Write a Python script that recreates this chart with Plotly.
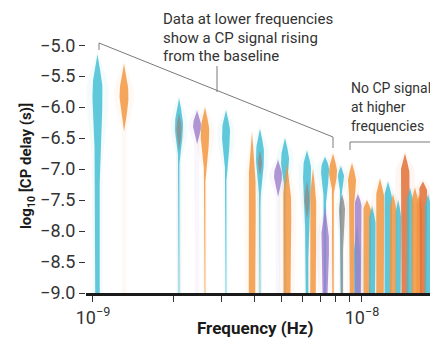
import plotly.graph_objects as go

# ---------------- data ----------------
freq = [1.039e-9, 1.304e-9, 2.088e-9, 2.088e-9, 2.436e-9, 2.608e-9, 3.122e-9,
        3.900e-9, 4.176e-9, 4.176e-9, 4.873e-9, 5.174e-9, 5.263e-9, 6.246e-9,
        6.246e-9, 6.574e-9, 7.288e-9, 7.288e-9, 7.803e-9, 8.355e-9, 8.43e-9,
        9.18e-9, 9.58e-9, 9.66e-9, 1.044e-8, 1.090e-8, 1.167e-8, 1.250e-8,
        1.304e-8, 1.363e-8, 1.445e-8, 1.508e-8, 1.574e-8, 1.629e-8, 1.686e-8,
        1.760e-8, 1.868e-8]
group = ["cyan", "orange", "cyan", "gray", "purple", "orange", "cyan",
         "orange", "cyan", "gray", "purple", "cyan", "orange", "cyan",
         "gray", "orange", "cyan", "purple", "orange", "cyan", "gray",
         "orange", "cyan", "purple", "orange", "cyan", "orange", "cyan",
         "orange", "cyan", "dorange", "cyan", "orange", "orange", "dorange",
         "cyan", "orange"]
top = [-5.15, -5.3, -5.85, -6.1, -6.05, -6.0, -6.05,
       -6.4, -6.35, -6.7, -6.85, -6.5, -6.9, -6.7,
       -7.2, -7.0, -6.8, -7.6, -6.75, -6.95, -7.4,
       -6.9, -7.9, -7.4, -7.5, -7.6, -7.15, -7.2,
       -7.4, -7.5, -6.75, -7.3, -7.3, -7.4, -7.2,
       -7.4, -7.3]
peak = [-5.75, -5.8, -6.3, -6.35, -6.3, -6.4, -6.4,
        -7.4, -6.75, -6.9, -7.1, -6.85, -7.6, -7.0,
        -7.5, -7.6, -7.0, -8.2, -7.05, -7.1, -7.65,
        -7.2, -8.5, -7.6, -7.7, -7.9, -7.5, -7.5,
        -7.7, -7.8, -7.1, -7.6, -7.6, -7.7, -7.35,
        -7.7, -7.6]
body_end = [-6.9, -6.4, -6.85, -6.7, -6.6, -7.1, -7.1,
            -9.0, -7.5, -7.1, -7.45, -7.3, -9.0, -8.2,
            -7.8, -9.0, -7.5, -9.0, -7.35, -7.4, -8.2,
            -7.5, -9.0, -9.0, -9.0, -9.0, -9.0, -9.0,
            -9.0, -9.0, -9.0, -9.0, -9.0, -9.0, -9.0,
            -9.0, -9.0]
density = [1.0, 0.9, 0.8, 0.5, 0.8, 0.85, 0.8,
           0.75, 0.8, 0.4, 0.8, 0.8, 0.85, 0.8,
           0.5, 0.65, 0.8, 0.8, 0.8, 0.6, 0.6,
           0.8, 0.7, 0.7, 0.85, 0.7, 0.85, 0.8,
           0.7, 0.6, 0.9, 0.7, 0.8, 0.6, 0.8,
           0.7, 0.8]
tail = [0.45, 0.0, 0.08, 0.0, 0.0, 0.08, 0.08,
        0.65, 0.08, 0.0, 0.0, 0.1, 0.7, 0.25,
        0.0, 0.55, 0.2, 0.5, 0.15, 0.1, 0.2,
        0.45, 0.55, 0.6, 0.7, 0.6, 0.75, 0.7,
        0.65, 0.5, 0.7, 0.65, 0.7, 0.5, 0.65,
        0.65, 0.7]
y_floor = -9.0

y_ticks = [-9.0, -8.5, -8.0, -7.5, -7.0, -6.5, -6.0, -5.5, -5.0]
x_major = [1e-9, 1e-8]
x_major_text = ["10<sup>−9</sup>", "10<sup>−8</sup>"]
x_minor = [2e-9, 3e-9, 4e-9, 5e-9, 6e-9, 7e-9, 8e-9, 9e-9, 2e-8]

# ---------------- styling ----------------
COLORS = {"cyan": (63, 188, 211), "orange": (243, 148, 60), "purple": (157, 127, 202),
          "gray": (140, 140, 140), "dorange": (224, 106, 48)}
WIDTH_SCALE = 5.0 / 269.0      # half-width in decades per density unit
FONT = "Roboto, sans-serif"
PAGE = 8                       # default body margin of the html page
W_PX, H_PX = 438 - PAGE, 339 - PAGE
# plot area in screen pixels
SX0, SX1, SY0, SY1 = 86, 438, 39, 293
L, R, T, B = SX0 - PAGE, W_PX - (SX1 - PAGE), SY0 - PAGE, H_PX - (SY1 - PAGE)
X_RANGE = [-9.026, -9.026 + (SX1 - SX0) / 269.0]
Y_RANGE = [-9.0, -4.9]


def half_width(y, t, p, b, w, tw):
    if y >= p:
        u = (y - p) / (t - p) if t != p else 1.0
        return w * max(0.0, 1 - u * u) ** 1.5
    if y >= b:
        u = (p - y) / (p - b) if p != b else 1.0
        return tw + (w - tw) * max(0.0, 1 - u * u) ** 1.5
    return tw


def outline(f, t, p, b, w, tw, scale):
    lo = y_floor if tw > 0 else b
    n = 80
    ys = [t + (lo - t) * i / n for i in range(n + 1)]
    hw = [half_width(y, t, p, b, w, tw) * WIDTH_SCALE * scale for y in ys]
    xr = [f * 10 ** h for h in hw]
    xl = [f * 10 ** (-h) for h in hw]
    return xr + xl[::-1] + [xr[0]], ys + ys[::-1] + [ys[0]]


fig = go.Figure()

# soft halos
for i in range(len(freq)):
    r, g, b_ = COLORS[group[i]]
    xs, ys = outline(freq[i], top[i] + 0.05, peak[i], body_end[i], density[i], max(tail[i], 0.2), 2.2)
    fig.add_trace(go.Scatter(x=xs, y=ys, mode="lines", fill="toself", line=dict(width=0),
                             fillcolor=f"rgba({r},{g},{b_},0.06)", hoverinfo="skip", showlegend=False))

# violins
for i in range(len(freq)):
    r, g, b_ = COLORS[group[i]]
    xs, ys = outline(freq[i], top[i], peak[i], body_end[i], density[i], tail[i], 1.0)
    fig.add_trace(go.Scatter(x=xs, y=ys, mode="lines", fill="toself", line=dict(width=0),
                             fillcolor=f"rgba({r},{g},{b_},0.82)", hoverinfo="skip", showlegend=False))


def px2paper(px, py):
    return (px - SX0) / (SX1 - SX0), (SY1 - py) / (SY1 - SY0)


def seg(p0, p1):
    x0, y0 = px2paper(*p0)
    x1, y1 = px2paper(*p1)
    fig.add_shape(type="line", xref="paper", yref="paper", x0=x0, y0=y0, x1=x1, y1=y1,
                  line=dict(color="#7a7a7a", width=1))


# brackets
seg((99, 50), (99, 43))
seg((99, 43), (333, 137))
seg((333, 137), (333, 148))
seg((217, 66), (217, 92))
seg((350, 150), (350, 142))
seg((350, 142), (445, 142))

for txt, py in [("Data at lower frequencies", 19), ("show a CP signal rising", 38), ("from the baseline", 56)]:
    xp, yp = px2paper(162, py)
    fig.add_annotation(text=txt, xref="paper", yref="paper", x=xp, y=yp, xanchor="left",
                       yanchor="middle", showarrow=False, borderpad=0,
                       font=dict(family=FONT, size=15, color="#333333"))
for txt, py in [("No CP signal", 88), ("at higher", 107), ("frequencies", 126)]:
    xp, yp = px2paper(350, py)
    fig.add_annotation(text=txt, xref="paper", yref="paper", x=xp, y=yp, xanchor="left",
                       yanchor="middle", showarrow=False, borderpad=0,
                       font=dict(family=FONT, size=14, color="#333333"))

# x-axis title
xp, yp = px2paper(255, 328)
fig.add_annotation(text="<b>Frequency (Hz)</b>", xref="paper", yref="paper", x=xp, y=yp,
                   xanchor="center", yanchor="middle", showarrow=False,
                   font=dict(family=FONT, size=17, color="#1a1a1a"), borderpad=0)

fig.update_layout(
    width=W_PX, height=H_PX, margin=dict(l=L, r=R, t=T, b=B, autoexpand=False),
    paper_bgcolor="white", plot_bgcolor="white",
    font=dict(family=FONT, size=16, color="#333333"),
    xaxis=dict(type="log", range=X_RANGE, showgrid=False, zeroline=False, automargin=False,
               showline=True, linecolor="#1a1a1a", linewidth=3,
               ticks="outside", ticklen=6, tickwidth=1, tickcolor="#333333",
               tickvals=x_major, ticktext=x_major_text, tickfont=dict(size=18),
               minor=dict(tickvals=x_minor, ticks="outside", ticklen=6, tickwidth=1,
                          tickcolor="#333333", showgrid=False)),
    yaxis=dict(range=Y_RANGE, showgrid=False, zeroline=False, showline=False, automargin=False,
               ticks="outside", ticklen=6, tickwidth=1, tickcolor="#333333",
               tickvals=y_ticks, ticktext=[f"−{abs(v):.1f}" for v in y_ticks],
               tickfont=dict(size=18),
               title=dict(text="<b>log<sub>10</sub> [CP delay (s)]</b>", font=dict(size=15, color="#1a1a1a"), standoff=4)),
)

fig.write_html("out.html")
